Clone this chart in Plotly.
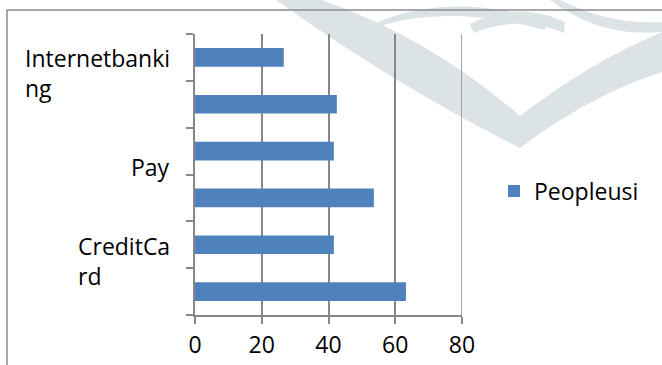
import plotly.graph_objects as go

# ---- data (bottom to top) ----
categories = ["Item 1", "CreditCard", "Item 3", "Pay", "Item 5", "Internetbanking"]
values = [63.2, 41.6, 53.6, 41.6, 42.5, 26.6]
shown_labels = {"CreditCard": "CreditCa<br>rd", "Pay": "Pay", "Internetbanking": "Internetbanki<br>ng"}
series_name = "Peopleusi"
x_ticks = [0, 20, 40, 60, 80]

FONT = "Open Sans, Liberation Sans, sans-serif"
FS = 23
BAR = "#4F81BD"
GRID = "#878787"
WM = "#DCE3E7"

W, H = 662, 365
L, R, T, B = 195, 200, 34, 50
PW, PH = W - L - R, H - T - B

def px(x):
    return (x - L) / PW

def py(y):
    return (H - B - y) / PH

def path(points_cmds):
    out = []
    for c, pts in points_cmds:
        coords = " ".join(f"{px(x):.4f},{py(y):.4f}" for x, y in pts)
        out.append(f"{c}{coords}")
    return " ".join(out) + " Z"

fig = go.Figure()
fig.add_trace(go.Bar(
    y=categories, x=values, orientation="h", name=series_name,
    marker=dict(color=BAR, line=dict(width=0)), showlegend=True,
))

shapes = []
# watermark (decorative)
shapes.append(dict(type="path", xref="paper", yref="paper", layer="below", line=dict(width=0), fillcolor=WM,
    path=path([("M", [(276, 0)]), ("Q", [(400, 88), (520, 148)]), ("L", [(520, 116)]),
               ("Q", [(430, 38), (322, 0)])])))
shapes.append(dict(type="path", xref="paper", yref="paper", layer="below", line=dict(width=0), fillcolor=WM,
    path=path([("M", [(520, 148)]), ("Q", [(590, 95), (662, 72)]), ("L", [(662, 32)]),
               ("Q", [(590, 62), (520, 116)])])))
shapes.append(dict(type="path", xref="paper", yref="paper", layer="below", line=dict(width=0), fillcolor=WM,
    path=path([("M", [(378, 22)]), ("Q", [(450, -8), (545, 20)]), ("L", [(545, 30)]),
               ("Q", [(450, 4), (380, 26)])])))
shapes.append(dict(type="path", xref="paper", yref="paper", layer="below", line=dict(width=0), fillcolor=WM,
    path=path([("M", [(470, 24)]), ("Q", [(520, 0), (565, 22)]), ("L", [(564, 33)]),
               ("Q", [(520, 14), (474, 33)])])))
shapes.append(dict(type="path", xref="paper", yref="paper", layer="below", line=dict(width=0), fillcolor=WM,
    path=path([("M", [(560, 0)]), ("Q", [(610, 25), (662, 22)]), ("L", [(662, 32)]),
               ("Q", [(600, 38), (550, 0)])])))
# gridline at the last tick (plotly omits gridlines on the range edge)
shapes.append(dict(type="line", xref="x", yref="paper", layer="below",
    x0=x_ticks[-1], x1=x_ticks[-1], y0=0, y1=1, line=dict(color=GRID, width=1.5)))
# outer chart border
shapes.append(dict(type="rect", xref="paper", yref="paper", layer="above",
    x0=px(7), x1=px(720), y0=py(10), y1=py(420), line=dict(color="#8C8C8C", width=1.5), fillcolor="rgba(0,0,0,0)"))

annotations = []
for cat, txt in shown_labels.items():
    annotations.append(dict(
        x=0, xref="paper", y=cat, yref="y", text=txt, showarrow=False,
        xanchor="right", yanchor="middle", align="left", xshift=-23, yshift=-16,
        font=dict(family=FONT, size=FS, color="#000000"),
    ))

fig.update_layout(
    width=W, height=H, margin=dict(l=L, r=R, t=T, b=B, pad=0, autoexpand=False),
    paper_bgcolor="white", plot_bgcolor="rgba(0,0,0,0)",
    bargap=0.6, shapes=shapes, annotations=annotations,
    font=dict(family=FONT, size=FS, color="#000000"),
    legend=dict(x=px(494), y=py(191), xanchor="left", yanchor="middle",
                font=dict(family=FONT, size=FS, color="#000000"),
                bgcolor="rgba(0,0,0,0)", itemwidth=30),
)
fig.update_xaxes(
    range=[0, 80], tickvals=x_ticks, ticktext=[str(v) for v in x_ticks],
    showgrid=True, gridcolor=GRID, gridwidth=1.5, zeroline=False,
    showline=True, linecolor=GRID, linewidth=1.5, automargin=False,
    ticks="outside", ticklen=7, tickwidth=1.5, tickcolor=GRID,
    ticklabelstandoff=2,
    tickfont=dict(family=FONT, size=FS, color="#000000"),
)
fig.update_yaxes(
    categoryorder="array", categoryarray=categories, automargin=False,
    showticklabels=False, tickson="boundaries",
    ticks="outside", ticklen=7, tickwidth=1.5, tickcolor=GRID,
    showline=True, linecolor=GRID, linewidth=1.5, showgrid=False, zeroline=False,
)
fig.write_html("out.html")
